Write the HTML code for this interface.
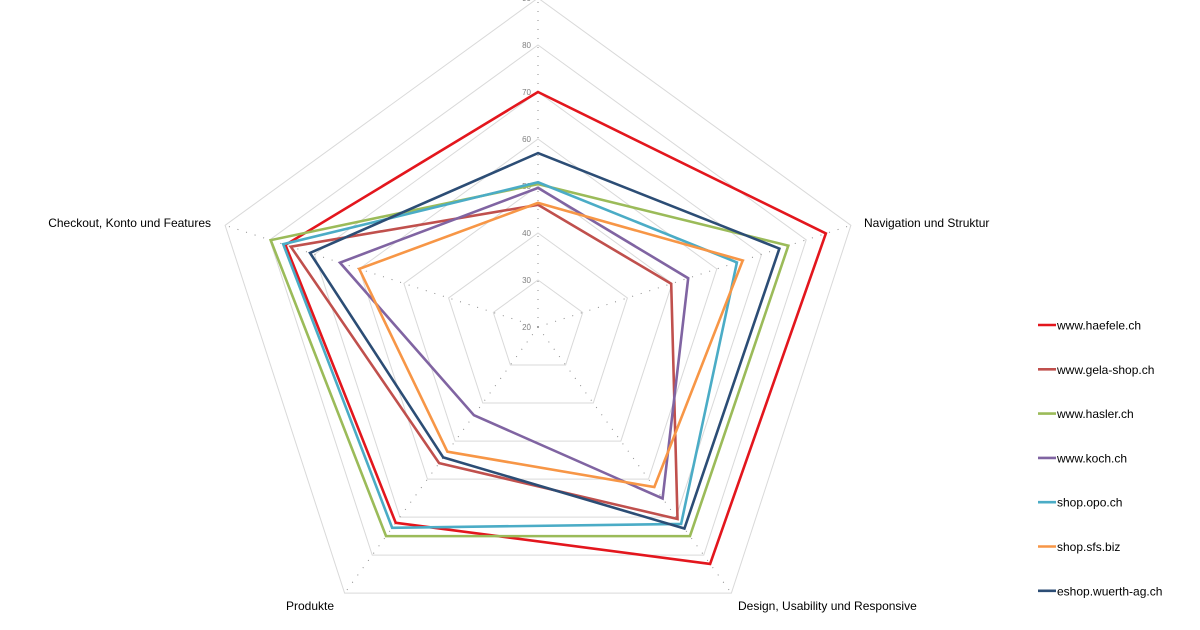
<!DOCTYPE html>
<html><head><meta charset="utf-8"><style>
html,body{margin:0;padding:0;background:#fff;width:1200px;height:630px;overflow:hidden}
svg text{font-family:"Liberation Sans",Arial,sans-serif}
</style></head><body>
<svg id="chart" width="1200" height="630" xmlns="http://www.w3.org/2000/svg"></svg>
<script>
const categories=["","Navigation und Struktur","Design, Usability und Responsive","Produkte","Checkout, Konto und Features"];
const ticks=[20,30,40,50,60,70,80,90];
const seriesNames=["www.haefele.ch","www.gela-shop.ch","www.hasler.ch","www.koch.ch","shop.opo.ch","shop.sfs.biz","eshop.wuerth-ag.ch"];
const seriesColors=["#e3161d","#c0504d","#9bbb59","#8064a2","#4bacc6","#f79646","#2c4d75"];
const haefele=[70,84.4,82.3,71.5,76.5];
const gela=[46,49.8,70.5,55.8,75.3];
const hasler=[50.4,76,75,75,79.8];
const koch=[49.6,53.6,65.1,43.2,64.3];
const opo=[50.8,64.5,71.8,72.8,77];
const sfs=[46.4,65.8,62.1,52.8,60];
const wuerth=[57,74,73,54.3,71];
const allSeries=[haefele,gela,hasler,koch,opo,sfs,wuerth];

const NS="http://www.w3.org/2000/svg";
const svg=document.getElementById('chart');
const cx=538,cy=327,minV=20,maxV=90,rMax=329;
function rScale(v){return (v-minV)/(maxV-minV)*rMax;}
function pt(i,v){const a=i*2*Math.PI/5;const r=rScale(v);return [cx+r*Math.sin(a),cy-r*Math.cos(a)];}
function mk(tag,attrs){const e=document.createElementNS(NS,tag);for(const k in attrs)e.setAttribute(k,attrs[k]);svg.appendChild(e);return e;}

// grid rings
ticks.forEach((t,ti)=>{
  if(t===minV)return;
  const p=[0,1,2,3,4].map(i=>pt(i,t).join(',')).join(' ');
  const g=mk('polygon',{points:p,fill:'none',stroke:'#d9d9d9','stroke-width':1});
  
  
});
// spokes
for(let i=0;i<5;i++){
  const [x,y]=pt(i,maxV);
  const s=mk('line',{x1:cx,y1:cy,x2:x,y2:y,stroke:'#8c8c8c','stroke-width':1,'stroke-dasharray':'1 8'});
  
  
}
// tick labels
ticks.forEach(t=>{
  const [x,y]=pt(0,t);
  const tx=mk('text',{x:x-7,y:y+3,'font-size':8,fill:'#7f7f7f','text-anchor':'end'});
  tx.textContent=t;
  
  
});
// category labels
const labelPos=[null,[864,227,'start'],[738,610,'start'],[310,610,'middle'],[211,227,'end']];
categories.forEach((c,i)=>{
  if(!c)return;
  const lp=labelPos[i];
  const tx=mk('text',{x:lp[0],y:lp[1],'font-size':12,fill:'#000','text-anchor':lp[2]});
  tx.textContent=c;
  
  
});
// series
allSeries.forEach((vals,si)=>{
  const p=vals.map((v,i)=>pt(i,v).join(',')).join(' ');
  const pg=mk('polygon',{points:p,fill:'none',stroke:seriesColors[si],'stroke-width':2.6,'stroke-linejoin':'miter'});
  
  
});
// legend
seriesNames.forEach((n,si)=>{
  const y=325+si*44.3;
  const g=document.createElementNS(NS,'g');
  
  
  svg.appendChild(g);
  const l=document.createElementNS(NS,'line');
  l.setAttribute('x1',1038);l.setAttribute('x2',1056);l.setAttribute('y1',y);l.setAttribute('y2',y);
  l.setAttribute('stroke',seriesColors[si]);l.setAttribute('stroke-width',2.6);
  g.appendChild(l);
  const t=document.createElementNS(NS,'text');
  t.setAttribute('x',1057);t.setAttribute('y',y+4.5);t.setAttribute('font-size',12);t.setAttribute('fill','#000');
  t.textContent=n;
  g.appendChild(t);
});
</script>
</body></html>
